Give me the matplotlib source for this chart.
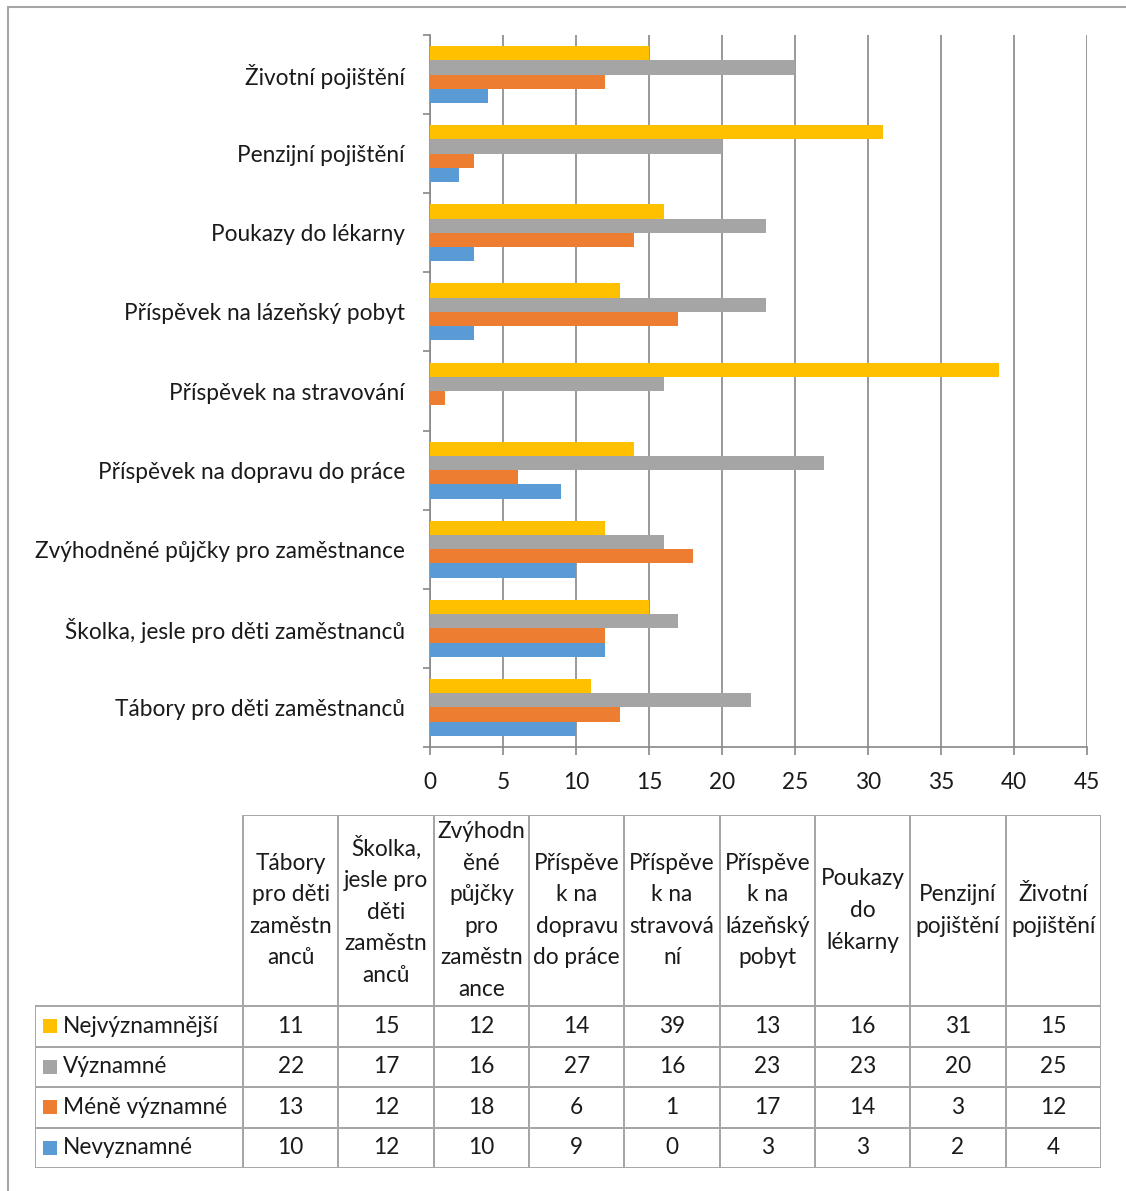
import numpy as np
import matplotlib
matplotlib.use('Agg')
import matplotlib.pyplot as plt
from matplotlib.patches import Rectangle

plt.rcParams['font.family']=['Lato','DejaVu Sans']

# categories from bottom (index 0) to top
categories=['Tábory pro děti zaměstnanců','Školka, jesle pro děti zaměstnanců',
            'Zvýhodněné půjčky pro zaměstnance','Příspěvek na dopravu do práce',
            'Příspěvek na stravování','Příspěvek na lázeňský pobyt',
            'Poukazy do lékarny','Penzijní pojištění','Životní pojištění']
header_labels=['Tábory\npro děti\nzaměstn\nanců','Školka,\njesle pro\nděti\nzaměstn\nanců',
               'Zvýhodn\něné\npůjčky\npro\nzaměstn\nance','Příspěve\nk na\ndopravu\ndo práce',
               'Příspěve\nk na\nstravová\nní','Příspěve\nk na\nlázeňský\npobyt',
               'Poukazy\ndo\nlékarny','Penzijní\npojištění','Životní\npojištění']
series_names=['Nejvýznamnější','Významné','Méně významné','Nevyznamné']
nejvyznamnejsi=[11,15,12,14,39,13,16,31,15]
vyznamne=[22,17,16,27,16,23,23,20,25]
mene_vyznamne=[13,12,18,6,1,17,14,3,12]
nevyznamne=[10,12,10,9,0,3,3,2,4]
colors=['#FFC000','#A5A5A5','#ED7D31','#5B9BD5']
xticks=[0,5,10,15,20,25,30,35,40,45]

series=[nejvyznamnejsi,vyznamne,mene_vyznamne,nevyznamne]
W,H=1126,1191
fig=plt.figure(figsize=(W/100,H/100),dpi=100)
txt='#1a1a1a'
fs=16.3

# outer frame
fig.add_artist(Rectangle((8/W,-0.1),1.2,1-7/H+0.1,transform=fig.transFigure,fill=False,ec='#a6a6a6',lw=1.5))

ax=fig.add_axes([430/W,1-747/H,657/W,712/H])
y=np.arange(len(categories))
bh=0.18
offs=[0.27,0.09,-0.09,-0.27]
for vals,c,o,n in zip(series,colors,offs,series_names):
    ax.barh(y+o,vals,height=bh,color=c,label=n,zorder=3)
ax.set_xlim(0,45)
ax.set_ylim(-0.5,len(categories)-0.5)
ax.set_xticks(xticks)
ax.set_xticklabels([str(v) for v in xticks],fontsize=fs,color=txt)
ax.set_yticks(y)
ax.set_yticklabels(categories,fontsize=fs,color=txt)
ax.set_yticks(np.arange(len(categories)+1)-0.5,minor=True)
ax.tick_params(axis='y',which='major',length=0,pad=18)
ax.tick_params(axis='y',which='minor',length=5,color='#888888',width=1.2)
ax.tick_params(axis='x',length=6,color='#888888',width=1.2,pad=12)
ax.grid(axis='x',color='#888888',lw=1.2,zorder=0)
for s in ['top','right']:
    ax.spines[s].set_visible(False)
for s in ['left','bottom']:
    ax.spines[s].set_color('#888888')
    ax.spines[s].set_linewidth(1.2)

# data table
tl,tr,tt,tb=35,1101,815,1168
tax=fig.add_axes([tl/W,1-tb/H,(tr-tl)/W,(tb-tt)/H])
tax.set_xlim(0,tr-tl)
tax.set_ylim(tb-tt,0)
tax.axis('off')
lab_w=208
ncol=len(categories)
col_w=(tr-tl-lab_w)/ncol
head_h=191
row_h=(tb-tt-head_h)/len(series)
lc='#a6a6a6'
lw=1.4
# header cells
for j,h in enumerate(header_labels):
    x0=lab_w+j*col_w
    tax.add_patch(Rectangle((x0,0),col_w,head_h,fill=False,ec=lc,lw=lw))
    tax.text(x0+col_w/2,head_h/2,h,ha='center',va='center',fontsize=fs,color=txt,linespacing=1.62)
for i,(vals,c,n) in enumerate(zip(series,colors,series_names)):
    y0=head_h+i*row_h
    tax.add_patch(Rectangle((0,y0),lab_w,row_h,fill=False,ec=lc,lw=lw))
    tax.add_patch(Rectangle((8,y0+row_h/2-7),14,14,fc=c,ec='none'))
    tax.text(28,y0+row_h/2,n,ha='left',va='center',fontsize=fs,color=txt)
    for j,v in enumerate(vals):
        x0=lab_w+j*col_w
        tax.add_patch(Rectangle((x0,y0),col_w,row_h,fill=False,ec=lc,lw=lw))
        tax.text(x0+col_w/2,y0+row_h/2,str(v),ha='center',va='center',fontsize=fs,color=txt)

fig.savefig('out.png',dpi=100)
